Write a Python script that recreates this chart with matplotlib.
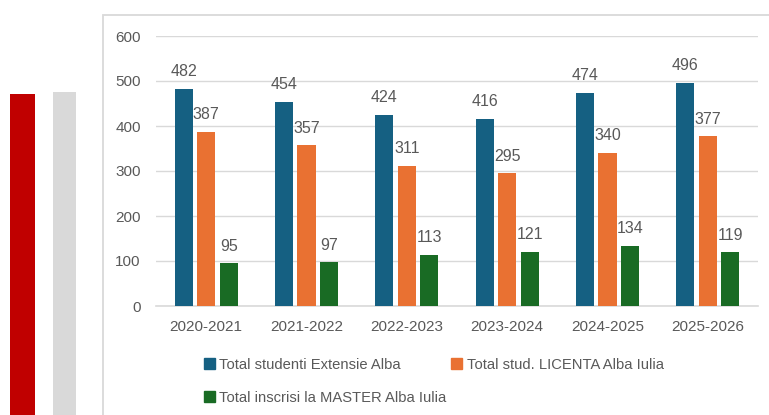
import numpy as np
import matplotlib
matplotlib.use('Agg')
import matplotlib.pyplot as plt
from matplotlib.patches import Rectangle, Patch

# --- DATOS ---
anii = ['2020-2021', '2021-2022', '2022-2023', '2023-2024', '2024-2025', '2025-2026']
total_extensie = [482, 454, 424, 416, 474, 496]
total_licenta = [387, 357, 311, 295, 340, 377]
total_master = [95, 97, 113, 121, 134, 119]
serii = ['Total studenti Extensie Alba', 'Total stud. LICENTA Alba Iulia',
         'Total inscrisi la MASTER Alba Iulia']
culori = ['#156082', '#E97132', '#196B24']
gri_text = '#595959'

plt.rcParams['font.family'] = ['Liberation Sans', 'DejaVu Sans']

W, H = 769, 415
fig = plt.figure(figsize=(W / 100, H / 100), dpi=100)

def fx(px):
    return px / W

def fy(py):
    return 1 - py / H

# benzi decorative in stanga
fig.patches.append(Rectangle((fx(10), 0), fx(25), fy(94), transform=fig.transFigure,
                             facecolor='#C00000', edgecolor='none', zorder=-2))
fig.patches.append(Rectangle((fx(53), 0), fx(23), fy(92), transform=fig.transFigure,
                             facecolor='#D9D9D9', edgecolor='none', zorder=-2))
# chenarul graficului
fig.patches.append(Rectangle((fx(103.5), -0.1), 1, fy(15.5) + 0.1, transform=fig.transFigure,
                             facecolor='white', edgecolor='#D9D9D9', linewidth=1.3, zorder=-1))

ax = fig.add_axes([fx(156), fy(306), fx(758) - fx(156), fy(36) - fy(306)])
ax.set_zorder(2)
ax.patch.set_alpha(0)
x = np.arange(len(anii))
latime = 0.18
pas = 0.225
for i, (vals, c) in enumerate(zip([total_extensie, total_licenta, total_master], culori)):
    bare = ax.bar(x + (i - 1) * pas, vals, latime, color=c, zorder=3, label=serii[i])
    for b, v in zip(bare, vals):
        ax.annotate(str(v), (b.get_x() + b.get_width() / 2, v), xytext=(0, 7),
                    textcoords='offset points', ha='center', va='bottom',
                    fontsize=11.5, color=gri_text)

ax.set_xlim(-0.5, len(anii) - 0.5)
ax.set_ylim(0, 600)
ax.set_yticks(range(0, 601, 100))
ax.set_xticks(x)
ax.set_xticklabels(anii)
ax.grid(axis='y', color='#D9D9D9', linewidth=1, zorder=0)
for s in ['top', 'right', 'left']:
    ax.spines[s].set_visible(False)
ax.spines['bottom'].set_color('#D9D9D9')
ax.spines['bottom'].set_linewidth(1.2)
ax.tick_params(axis='both', length=0, colors=gri_text, labelsize=11)
ax.tick_params(axis='y', pad=11)
ax.tick_params(axis='x', pad=10)

h = [Patch(color=culori[0]), Patch(color=culori[2]), Patch(color=culori[1])]
l = [serii[0], serii[2], serii[1]]
leg = fig.legend(h, l, ncol=2, loc='upper left', bbox_to_anchor=(fx(204), fy(358)),
                 frameon=False, fontsize=10.6, handlelength=0.75, handleheight=0.75,
                 handletextpad=0.3, labelspacing=1.28, columnspacing=0.3, borderpad=0,
                 borderaxespad=0)
for t in leg.get_texts():
    t.set_color(gri_text)

fig.savefig('out.png', dpi=100)
